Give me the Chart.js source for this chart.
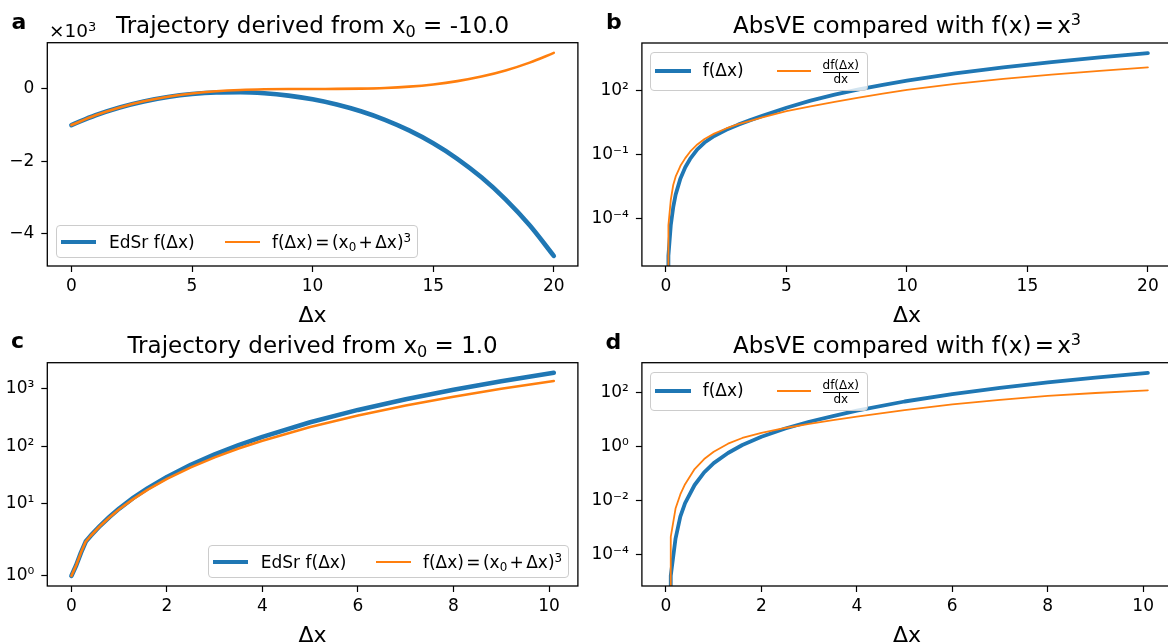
<!DOCTYPE html>
<html><head><meta charset="utf-8"><title>EdSr trajectories and AbsVE</title>
<script src="https://cdn.jsdelivr.net/npm/chart.js@4.4.1/dist/chart.umd.min.js"></script>
<style>
html,body{margin:0;padding:0;background:#fff;overflow:hidden;}
#fig{position:relative;width:1168px;height:642px;overflow:hidden;background:#fff;font-family:'DejaVu Sans',sans-serif;color:#000;}
#fig canvas{position:absolute;left:0;top:0;}
.tx{position:absolute;white-space:nowrap;line-height:1.2;}
.ttl{font-size:23px;}
.lbl{font-size:22px;}
.pl{font-size:22px;font-weight:bold;}
.off{font-size:18.5px;}
.lt{font-size:17px;}
.fr{font-size:12px;}
.leg{position:absolute;box-sizing:border-box;border:1px solid #cccccc;border-radius:4px;background:rgba(255,255,255,0.8);}
.key{position:absolute;}
.sub{font-size:70%;vertical-align:-0.22em;}
.sup{font-size:70%;vertical-align:0.5em;}
.op{margin:0 0.14em;}
.bar{position:absolute;background:#000;}
</style></head>
<body>
<div id="fig">
<canvas id="ca" width="1180" height="642"></canvas>
<canvas id="cb" width="1180" height="642"></canvas>
<canvas id="cc" width="1180" height="642"></canvas>
<canvas id="cd" width="1180" height="642"></canvas>

<!-- panel a -->
<div class="tx pl" data-x="11.5" data-y="28.5">a</div>
<div class="tx off" data-x="49" data-y="37.3">×10<span class="sup">3</span></div>
<div class="tx ttl" data-x="312.6" data-y="33.3" data-a="c">Trajectory derived from x<span class="sub">0</span> = -10.0</div>
<div class="tx lbl" data-x="312.6" data-y="321.7" data-a="c">Δx</div>
<div class="leg" style="left:55.5px;top:225px;width:362px;height:33px;"></div>
<div class="key" style="left:61px;top:240px;width:35px;height:4px;background:#1f77b4;"></div>
<div class="tx lt" data-x="109" data-y="248.3">EdSr f(Δx)</div>
<div class="key" style="left:224.6px;top:241px;width:35px;height:2px;background:#ff7f0e;"></div>
<div class="tx lt" data-x="272" data-y="248.3">f(Δx)<span class="op">=</span>(x<span class="sub">0</span><span class="op">+</span>Δx)<span class="sup">3</span></div>

<!-- panel b -->
<div class="tx pl" data-x="606" data-y="29">b</div>
<div class="tx ttl" data-x="907" data-y="33.3" data-a="c">AbsVE compared with f(x)<span class="op">=</span>x<span class="sup">3</span></div>
<div class="tx lbl" data-x="907" data-y="321.7" data-a="c">Δx</div>
<div class="leg" style="left:650px;top:51.7px;width:218px;height:39.5px;"></div>
<div class="key" style="left:655px;top:69px;width:36px;height:4px;background:#1f77b4;"></div>
<div class="tx lt" data-x="702.7" data-y="75.5">f(Δx)</div>
<div class="key" style="left:776.7px;top:70px;width:34.5px;height:2px;background:#ff7f0e;"></div>
<div class="tx fr" data-x="840.8" data-y="68.5" data-a="c">df(Δx)</div>
<div class="bar" style="left:822.7px;top:72px;width:36.5px;height:1px;"></div>
<div class="tx fr" data-x="840.8" data-y="82.5" data-a="c">dx</div>

<!-- panel c -->
<div class="tx pl" data-x="11" data-y="348.3">c</div>
<div class="tx ttl" data-x="312.6" data-y="353.3" data-a="c">Trajectory derived from x<span class="sub">0</span> = 1.0</div>
<div class="tx lbl" data-x="312.6" data-y="641.7" data-a="c">Δx</div>
<div class="leg" style="left:208px;top:545px;width:361px;height:33px;"></div>
<div class="key" style="left:212.7px;top:560px;width:35px;height:4px;background:#1f77b4;"></div>
<div class="tx lt" data-x="260.8" data-y="567.8">EdSr f(Δx)</div>
<div class="key" style="left:376px;top:561px;width:35px;height:2px;background:#ff7f0e;"></div>
<div class="tx lt" data-x="423" data-y="567.8">f(Δx)<span class="op">=</span>(x<span class="sub">0</span><span class="op">+</span>Δx)<span class="sup">3</span></div>

<!-- panel d -->
<div class="tx pl" data-x="605.5" data-y="349">d</div>
<div class="tx ttl" data-x="907" data-y="353.3" data-a="c">AbsVE compared with f(x)<span class="op">=</span>x<span class="sup">3</span></div>
<div class="tx lbl" data-x="907" data-y="641.7" data-a="c">Δx</div>
<div class="leg" style="left:650px;top:371.7px;width:218px;height:39.5px;"></div>
<div class="key" style="left:655px;top:389px;width:36px;height:4px;background:#1f77b4;"></div>
<div class="tx lt" data-x="702.7" data-y="395.5">f(Δx)</div>
<div class="key" style="left:776.7px;top:390px;width:34.5px;height:2px;background:#ff7f0e;"></div>
<div class="tx fr" data-x="840.8" data-y="388.5" data-a="c">df(Δx)</div>
<div class="bar" style="left:822.7px;top:392px;width:36.5px;height:1px;"></div>
<div class="tx fr" data-x="840.8" data-y="402.5" data-a="c">dx</div>
</div>

<script>
// ---------------- data ----------------
// Panel a: trajectory from x0 = -10.0
const aDx    = [0,1,2,3,4,5,6,7,8,9,10,11,12,13,14,15,16,17,18,19,20];
const aEdSr  = [-1000,-729.06,-512.74,-345.51,-222.46,-140.5,-97.3,-90.7,-120,-185.5,-288,-431.5,-619,-856,-1149,-1504,-1934,-2447,-3057,-3776,-4623];
const aExact = [-1000,-729,-512,-343,-216,-125,-64,-27,-8,-1,0,1,8,27,64,125,216,343,512,729,1000];
const aXTicks = [0,5,10,15,20];
const aYTicks = [-4000,-2000,0];
const aYTickLabels = ['\u22124','\u22122','0'];

// Panel b: AbsVE for x0 = -10.0
const bDx = [0,0.1,0.2,0.3,0.4,0.6,0.8,1,1.3,1.6,2,2.5,3,3.5,4,5,6,7,8,9,10,12,14,16,18,20];
const bF  = [0,1.78e-6,5.0e-5,3.39e-4,1.32e-3,7.6e-3,0.0251,0.0617,0.174,0.363,0.741,1.445,2.51,4.07,6.46,15.5,33.3,63.7,112,184.5,288,627,1213,2150,3569,5623];
const bDF = [0,4.79e-5,7.59e-4,3.72e-3,9.12e-3,0.0295,0.0676,0.135,0.295,0.537,0.955,1.66,2.63,3.80,5.50,10.7,18.2,29.5,46.8,71.6,107,203,348,555,838,1211];
const bXTicks = [0,5,10,15,20];
const bYTicks = [1e-4,1e-1,1e2];
const bYTickLabels = ['10\u207B\u2074','10\u207B\u00B9','10\u00B2'];

// Panel c: trajectory from x0 = 1.0
const cDx    = [0,0.1,0.2,0.3,0.4,0.6,0.8,1,1.3,1.6,2,2.5,3,3.5,4,5,6,7,8,9,10.1];
const cEdSr  = [1,1.331,1.7284,2.1995,2.752,4.133,5.942,8.240,12.736,18.698,29.265,47.446,72.128,104.305,145.89,261.71,429.1,658.2,960.7,1350.8,1892.4];
const cExact = [1,1.331,1.728,2.197,2.744,4.096,5.832,8,12.167,17.576,27,42.875,64,91.125,125,216,343,512,729,1000,1367.631];
const cXTicks = [0,2,4,6,8,10];
const cYTicks = [1,10,100,1000];
const cYTickLabels = ['10\u2070','10\u00B9','10\u00B2','10\u00B3'];

// Panel d: AbsVE for x0 = 1.0
const dDx = [0,0.1,0.2,0.3,0.4,0.6,0.8,1,1.3,1.6,2,2.5,3,3.5,4,5,6,7,8,9,10.1];
const dF  = [0,1.62e-5,3.89e-4,2.51e-3,7.94e-3,0.0372,0.110,0.240,0.569,1.122,2.265,4.571,8.128,13.18,20.89,45.71,86.1,146.2,231.7,350.8,524.8];
const dDF = [0,4.47e-4,5.01e-3,0.0166,0.0398,0.1445,0.339,0.631,1.259,2.042,3.162,4.786,6.761,9.333,12.59,21.88,35.48,52.48,73.28,94.41,118.9];
const dXTicks = [0,2,4,6,8,10];
const dYTicks = [1e-4,1e-2,1,1e2];
const dYTickLabels = ['10\u207B\u2074','10\u207B\u00B2','10\u2070','10\u00B2'];

// ---------------- custom scales ----------------
const LT = 2, LS = 1/(1-1/10);
function symT(v){const a=Math.abs(v);return a<=LT? v*LS : Math.sign(v)*LT*(LS+Math.log10(a/LT));}
function symInv(t){const a=Math.abs(t);return a<=LT*LS? t/LS : Math.sign(t)*LT*Math.pow(10,a/LT-LS);}
class SymLogScale extends Chart.Scale {
  static id = 'symlog';
  static defaults = {};
  determineDataLimits(){const mm=this.getMinMax(false);this.min=(this.options.min??mm.min);this.max=(this.options.max??mm.max);}
  buildTicks(){return [];}
  configure(){super.configure();this._s=symT(this.min);this._r=symT(this.max)-this._s;}
  getLabelForValue(v){return String(v);}
  getPixelForValue(v){if(v==null||isNaN(v))return NaN;return this.getPixelForDecimal((symT(v)-this._s)/this._r);}
  getValueForPixel(p){return symInv(this.getDecimalForPixel(p)*this._r+this._s);}
}
class LogClipScale extends Chart.LogarithmicScale {
  static id = 'logclip';
  static defaults = {};
  parse(raw,index){const v=Number(raw);if(raw!==null&&raw!==undefined&&isFinite(v)&&v<=0)return 1e-300;return super.parse(raw,index);}
}
Chart.register(SymLogScale, LogClipScale);

// autoscale limits like matplotlib (5% margins)
function linLim(arrs){const v=[].concat(...arrs);const mn=Math.min(...v),mx=Math.max(...v),m=(mx-mn)*0.05;return [mn-m,mx+m];}
function logLim(arrs){const v=[].concat(...arrs).filter(x=>x>0).map(Math.log10);const mn=Math.min(...v),mx=Math.max(...v),m=(mx-mn)*0.05;return [Math.pow(10,mn-m),Math.pow(10,mx+m)];}
function symLim(arrs){const v=[].concat(...arrs).map(symT);const mn=Math.min(...v),mx=Math.max(...v),m=(mx-mn)*0.05;return [symInv(mn-m),symInv(mx+m)];}

const FONT = "'DejaVu Sans', sans-serif";
const BLUE = '#1f77b4', ORANGE = '#ff7f0e';
const framePlugin = {id:'frame', afterDatasetsDraw(chart){const {ctx,chartArea:a}=chart;ctx.save();ctx.strokeStyle='#000';ctx.lineWidth=1.3;ctx.strokeRect(a.left,a.top,a.right-a.left,a.bottom-a.top);ctx.restore();}};

function pts(xs,ys){return xs.map((x,i)=>({x:x,y:ys[i]}));}

function panel(id, area, c){
  const W=1180,H=642,HX=40;
  const WY=Math.min(62, area.l);
  const tickGrid={display:true,drawOnChartArea:false,drawTicks:true,tickLength:6,tickWidth:1.2,tickColor:'#000'};
  return new Chart(document.getElementById(id),{
    type:'line',
    data:{datasets:c.datasets},
    options:{
      responsive:false,animation:false,devicePixelRatio:1,events:[],
      layout:{padding:{left:area.l-WY,right:W-area.r,top:area.t,bottom:H-area.b-HX}},
      plugins:{legend:{display:false},tooltip:{enabled:false},title:{display:false}},
      elements:{point:{radius:0},line:{borderCapStyle:'round',borderJoinStyle:'round'}},
      scales:{
        x:{type:'linear',position:'bottom',min:c.xLim[0],max:c.xLim[1],
           afterFit:s=>{s.height=HX;},
           afterBuildTicks:s=>{s.ticks=c.xTicks.map(v=>({value:v}));},
           ticks:{font:{family:FONT,size:17},color:'#000',padding:4,autoSkip:false,maxRotation:0,callback:v=>String(v)},
           grid:tickGrid,border:{display:false}},
        y:{type:c.yType,position:'left',min:c.yLim[0],max:c.yLim[1],
           afterFit:s=>{s.width=WY;},
           afterBuildTicks:s=>{s.ticks=c.yTicks.map(v=>({value:v}));},
           ticks:{font:{family:FONT,size:17},color:'#000',padding:7,autoSkip:false,callback:(v,i)=>c.yLabels[i]},
           grid:tickGrid,border:{display:false}}
      }
    },
    plugins:[framePlugin]
  });
}

function ds(data,color,width,order,opts){return Object.assign({data:data,borderColor:color,backgroundColor:color,borderWidth:width,pointRadius:0,fill:false,order:order,clip:0,tension:0},opts||{});}
const MONO={cubicInterpolationMode:'monotone'};

panel('ca',{l:47.3,r:577.9,t:42.7,b:266},{
  xLim:linLim([aDx]),xTicks:aXTicks,yType:'linear',yLim:linLim([aEdSr,aExact]),yTicks:aYTicks,yLabels:aYTickLabels,
  datasets:[ds(pts(aDx,aEdSr),BLUE,4.6,1,MONO),ds(pts(aDx,aExact),ORANGE,2.6,0,MONO)]
});
panel('cb',{l:641.9,r:1172,t:43,b:266},{
  xLim:linLim([bDx]),xTicks:bXTicks,yType:'logclip',yLim:logLim([bF,bDF]),yTicks:bYTicks,yLabels:bYTickLabels,
  datasets:[ds(pts(bDx,bF),BLUE,3.8,1),ds(pts(bDx,bDF),ORANGE,1.8,0)]
});
panel('cc',{l:47.3,r:577.9,t:362.7,b:586},{
  xLim:linLim([cDx]),xTicks:cXTicks,yType:'symlog',yLim:symLim([cEdSr,cExact]),yTicks:cYTicks,yLabels:cYTickLabels,
  datasets:[ds(pts(cDx,cEdSr),BLUE,4.6,1),ds(pts(cDx,cExact),ORANGE,2.6,0)]
});
panel('cd',{l:641.9,r:1172,t:362.7,b:586},{
  xLim:linLim([dDx]),xTicks:dXTicks,yType:'logclip',yLim:logLim([dF,dDF]),yTicks:dYTicks,yLabels:dYTickLabels,
  datasets:[ds(pts(dDx,dF),BLUE,3.8,1),ds(pts(dDx,dDF),ORANGE,1.8,0)]
});

// ---------------- text placement by baseline ----------------
function placeAll(){
  document.querySelectorAll('.tx').forEach(el=>{
    let m=el.querySelector('.bl');
    if(!m){m=document.createElement('span');m.className='bl';m.style.cssText='display:inline-block;width:0;height:0;vertical-align:baseline;';el.appendChild(m);}
    el.style.left='0px';el.style.top='0px';
    const r=el.getBoundingClientRect(),mr=m.getBoundingClientRect();
    const base=mr.top-r.top,w=r.width;
    const x=+el.dataset.x,y=+el.dataset.y,al=el.dataset.a||'l';
    el.style.top=(y-base)+'px';
    el.style.left=(al==='c'?x-w/2:al==='r'?x-w:x)+'px';
  });
}
placeAll();
if(document.fonts&&document.fonts.ready){document.fonts.ready.then(placeAll);}
</script>
</body></html>
